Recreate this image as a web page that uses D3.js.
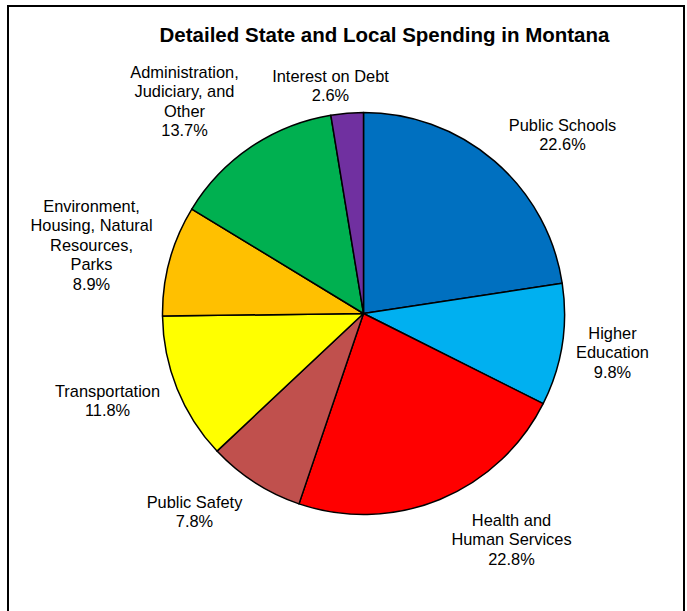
<!DOCTYPE html>
<html><head><meta charset="utf-8">
<script src="https://cdn.jsdelivr.net/npm/d3@7"></script>
<style>body{margin:0;background:#fff}svg{display:block}text{font-family:"Liberation Sans",Arial,sans-serif;fill:#000}</style>
</head><body>
<svg id="chart" width="687" height="611"></svg>
<script>
const categories = ["Public Schools","Higher Education","Health and Human Services","Public Safety","Transportation","Environment, Housing, Natural Resources, Parks","Administration, Judiciary, and Other","Interest on Debt"];
const values = [22.6, 9.8, 22.8, 7.8, 11.8, 8.9, 13.7, 2.6];
const labelLines = [["Public Schools"],["Higher","Education"],["Health and","Human Services"],["Public Safety"],["Transportation"],["Environment,","Housing, Natural","Resources,","Parks"],["Administration,","Judiciary, and","Other"],["Interest on Debt"]];
const colors = ["#0070C0","#00B0F0","#FF0000","#C0504D","#FFFF00","#FFC000","#00B050","#7030A0"];
// label anchor offsets (dx, dy of first-line baseline relative to pie centre)
const labelOffsets = [[199,-183],[249,25],[148,212],[-169,194],[-256,83],[-272,-102],[-179,-236],[-33,-232]];

const svg = d3.select("#chart");
const cx = 363.5, cy = 313.5, R = 201;
svg.append("rect").attr("x",8).attr("y",6).attr("width",676).attr("height",640)
  .attr("fill","#fff").attr("stroke","#000").attr("stroke-width",2);
svg.append("text").attr("x",384.5).attr("y",42).attr("text-anchor","middle")
  .style("font-size","20.5px").style("font-weight","bold")
  .text("Detailed State and Local Spending in Montana");

const pie = d3.pie().sort(null).value(d=>d)(values);
const arc = d3.arc().innerRadius(0).outerRadius(R);
const g = svg.append("g").attr("transform",`translate(${cx},${cy})`);
g.selectAll("path").data(pie).join("path")
  .attr("d",arc).attr("fill",(d,i)=>colors[i])
  .attr("stroke","#000").attr("stroke-width",1.5).attr("stroke-linejoin","round");

const lh = 19.5;
pie.forEach((d,i)=>{
  const [dx,dy] = labelOffsets[i];
  const t = g.append("text").attr("text-anchor","middle").style("font-size","16.4px");
  const lines = labelLines[i].concat([d3.format(".1f")(values[i])+"%"]);
  lines.forEach((l,k)=>{
    t.append("tspan").attr("x",dx).attr("y",dy + k*lh).text(l);
  });
});
</script>
</body></html>
